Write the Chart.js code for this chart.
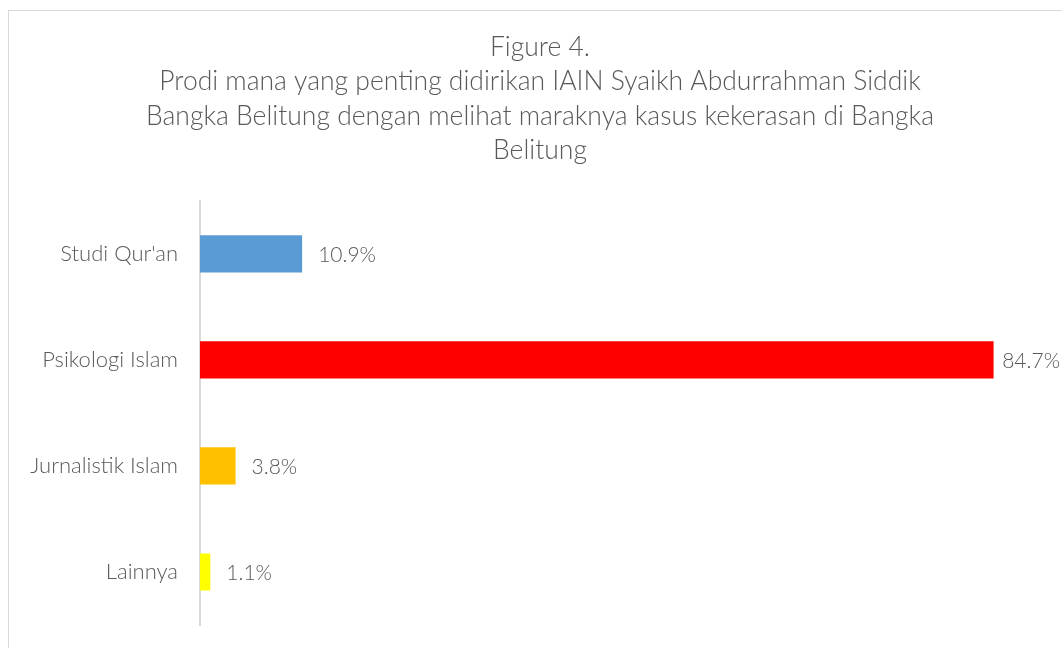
<!DOCTYPE html>
<html>
<head>
<meta charset="utf-8">
<script src="https://cdn.jsdelivr.net/npm/chart.js@4.4.1/dist/chart.umd.min.js"></script>
<style>
    html, body { margin: 0; padding: 0; background: #ffffff; }
    #wrap { position: relative; width: 1062px; height: 648px; overflow: hidden; }
    #frame {
        position: absolute; left: 8px; top: 10px; width: 1100px; height: 700px;
        border: 1px solid #d9d9d9; box-sizing: border-box; pointer-events: none;
    }
</style>
</head>
<body>
<div id="wrap">
    <canvas id="prodiChart" width="1062" height="648"></canvas>
    <div id="frame"></div>
</div>
<script>
// Chart data
const titleLines = [
    "Figure 4.",
    "Prodi mana yang penting didirikan IAIN Syaikh Abdurrahman Siddik",
    "Bangka Belitung dengan melihat maraknya kasus kekerasan di Bangka",
    "Belitung"
];
const categories = ["Studi Qur'an", "Psikologi Islam", "Jurnalistik Islam", "Lainnya"];
const percentages = [10.9, 84.7, 3.8, 1.1];
const barColors = ["#5b9bd5", "#ff0000", "#ffc000", "#ffff00"];

const textColor = "#595959";
const fontFamily = "Lato, 'Open Sans', sans-serif";

// Draw the value labels next to each bar
const valueLabels = {
    id: "valueLabels",
    afterDatasetsDraw(chart) {
        const ctx = chart.ctx;
        const meta = chart.getDatasetMeta(0);
        ctx.save();
        ctx.font = "300 21px " + fontFamily;
        ctx.fillStyle = textColor;
        ctx.textBaseline = "middle";
        meta.data.forEach((bar, i) => {
            const text = percentages[i].toFixed(1) + "%";
            const w = ctx.measureText(text).width;
            let x = bar.x + 16;
            if (x + w > chart.width - 2) {
                x = chart.width - 2 - w;
            }
            ctx.fillText(text, x, bar.y + 1);
        });
        ctx.restore();
    }
};

function renderChart() {
    const ctx = document.getElementById("prodiChart").getContext("2d");
    new Chart(ctx, {
        type: "bar",
        data: {
            labels: categories,
            datasets: [
                {
                    data: percentages,
                    backgroundColor: barColors,
                    barPercentage: 0.35,
                    categoryPercentage: 1,
                },
            ],
        },
        options: {
            indexAxis: "y",
            responsive: false,
            animation: false,
            layout: { padding: { left: 18, right: 0, top: 20, bottom: 23 } },
            plugins: {
                legend: { display: false },
                tooltip: { enabled: false },
                title: {
                    display: true,
                    text: titleLines,
                    color: textColor,
                    font: { family: fontFamily, size: 26.5, weight: 300, lineHeight: 1.3 },
                    padding: { top: 10, bottom: 33 },
                },
            },
            scales: {
                x: {
                    display: false,
                    min: 0,
                    max: 92,
                },
                y: {
                    grid: { display: false },
                    border: { display: true, color: "#d9d9d9", width: 2 },
                    ticks: {
                        color: textColor,
                        font: { family: fontFamily, size: 22, weight: 300 },
                        padding: 14,
                    },
                    afterFit(scale) {
                        scale.width = 182;
                        scale.paddingTop = 0;
                        scale.paddingBottom = 0;
                    },
                },
            },
        },
        plugins: [valueLabels],
    });
}

renderChart();
</script>
</body>
</html>
